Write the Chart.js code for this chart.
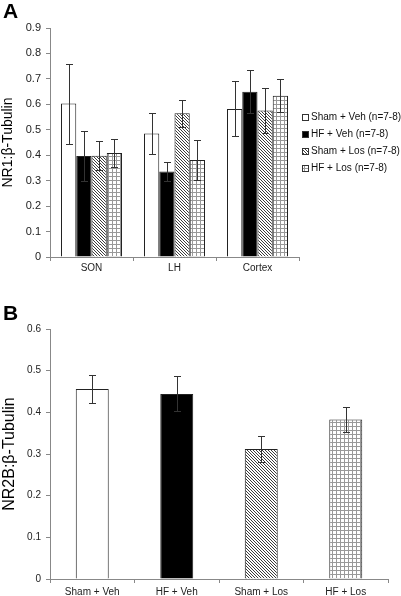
<!DOCTYPE html>
<html>
<head>
<meta charset="utf-8">
<script src="https://cdn.jsdelivr.net/npm/chart.js@4.4.0/dist/chart.umd.min.js"></script>
<style>
  html, body { margin: 0; padding: 0; background: #fff; }
  #wrap { position: relative; width: 401px; height: 596px; overflow: hidden; font-family: "Liberation Sans", Arial, sans-serif; }
  canvas { position: absolute; left: 0; }
  .tag { position: absolute; left: 3px; font-weight: bold; font-size: 21px; line-height: 1; }
</style>
</head>
<body>
<div id="wrap">
  <canvas id="chartA" width="401" height="290" style="top:0"></canvas>
  <canvas id="chartB" width="401" height="306" style="top:290px"></canvas>
  <div class="tag" style="top:0">A</div>
  <div class="tag" style="top:302px">B</div>
</div>
<script>
// panel A: NR1 by region
const regions = ['SON', 'LH', 'Cortex'];
const groupsA = ['Sham + Veh (n=7-8)', 'HF + Veh (n=7-8)', 'Sham + Los (n=7-8)', 'HF + Los (n=7-8)'];
const shamVeh = [0.603, 0.485, 0.582];
const shamVehErr = [0.157, 0.082, 0.108];
const hfVeh = [0.397, 0.336, 0.649];
const hfVehErr = [0.098, 0.037, 0.085];
const shamLos = [0.398, 0.565, 0.576];
const shamLosErr = [0.056, 0.053, 0.089];
const hfLos = [0.409, 0.381, 0.634];
const hfLosErr = [0.055, 0.080, 0.064];
const yMaxA = 0.9;

// panel B: NR2B by treatment
const treatments = ['Sham + Veh', 'HF + Veh', 'Sham + Los', 'HF + Los'];
const nr2b = [0.456, 0.444, 0.312, 0.383];
const nr2bErr = [0.033, 0.042, 0.032, 0.030];
const yMaxB = 0.6;
const yStep = 0.1;

const FONT = '"Liberation Sans", Arial, sans-serif';

function hatchPattern() {
  const c = document.createElement('canvas');
  c.width = 6; c.height = 6;
  const g = c.getContext('2d');
  const img = g.createImageData(6, 6);
  for (let y = 0; y < 6; y++) {
    for (let x = 0; x < 6; x++) {
      const dark = ((x - y + 6) % 3) === 0;
      const v = dark ? 60 : 255;
      const k = (y * 6 + x) * 4;
      img.data[k] = v; img.data[k + 1] = v; img.data[k + 2] = v; img.data[k + 3] = 255;
    }
  }
  g.putImageData(img, 0, 0);
  return g.createPattern(c, 'repeat');
}

function gridPattern() {
  const c = document.createElement('canvas');
  c.width = 4; c.height = 4;
  const g = c.getContext('2d');
  g.fillStyle = '#fff';
  g.fillRect(0, 0, 4, 4);
  g.fillStyle = '#999';
  g.fillRect(0, 0, 4, 1);
  g.fillRect(0, 0, 1, 4);
  return g.createPattern(c, 'repeat');
}

const fills = ['#ffffff', '#000000', hatchPattern(), gridPattern()];

const errorBars = {
  id: 'errorBars',
  afterDatasetsDraw(chart) {
    const ctx = chart.ctx;
    const yScale = chart.scales.y;
    ctx.save();
    ctx.strokeStyle = '#333';
    ctx.lineWidth = 1;
    chart.data.datasets.forEach((ds, di) => {
      const meta = chart.getDatasetMeta(di);
      meta.data.forEach((bar, i) => {
        const v = ds.data[i], e = ds.errors[i];
        const x = Math.round(bar.x) + 0.5;
        const yt = Math.round(yScale.getPixelForValue(v + e)) + 0.5;
        const yb = Math.round(yScale.getPixelForValue(v - e)) + 0.5;
        ctx.beginPath();
        ctx.moveTo(x, yt); ctx.lineTo(x, yb);
        ctx.moveTo(x - 3.5, yt); ctx.lineTo(x + 3.5, yt);
        ctx.moveTo(x - 3.5, yb); ctx.lineTo(x + 3.5, yb);
        ctx.stroke();
      });
    });
    ctx.restore();
  }
};

const sideLegend = {
  id: 'sideLegend',
  afterDraw(chart) {
    const ctx = chart.ctx;
    const x0 = chart.chartArea.right + 3;
    const yMid = (chart.chartArea.top + chart.chartArea.bottom) / 2;
    const gap = 16.7;
    ctx.save();
    ctx.font = '10px ' + FONT;
    ctx.textBaseline = 'middle';
    chart.data.datasets.forEach((ds, i) => {
      const y = Math.round(yMid + (i - 1.5) * gap);
      ctx.fillStyle = ds.backgroundColor;
      ctx.fillRect(x0, y - 3, 7, 7);
      ctx.strokeStyle = '#333';
      ctx.strokeRect(x0 + 0.5, y - 2.5, 6, 6);
      ctx.fillStyle = '#111';
      ctx.fillText(ds.label, x0 + 9, y + 0.5);
    });
    ctx.restore();
  }
};

function tickLabel(v) {
  return v === 0 ? '0' : v.toFixed(1);
}

function yAxis(max, title, titleSize, tickSize) {
  return {
    min: 0,
    max: max,
    afterFit: s => { s.width = 50; },
    ticks: { stepSize: yStep, callback: tickLabel, color: '#222', padding: 5, font: { family: FONT, size: tickSize } },
    grid: { drawOnChartArea: false, drawTicks: true, tickLength: 4, color: '#888' },
    border: { color: '#888' },
    title: { display: true, text: title, color: '#000', padding: { top: 0, bottom: 0 }, font: { family: FONT, size: titleSize } }
  };
}

function xAxis(height, pad) {
  return {
    afterFit: s => { s.height = height; },
    ticks: { color: '#222', padding: pad, maxRotation: 0, font: { family: FONT, size: 10 } },
    grid: { drawOnChartArea: false, drawTicks: true, tickLength: 4, color: '#888' },
    border: { color: '#888' }
  };
}

new Chart(document.getElementById('chartA'), {
  type: 'bar',
  data: {
    labels: regions,
    datasets: [
      { label: groupsA[0], data: shamVeh, errors: shamVehErr },
      { label: groupsA[1], data: hfVeh, errors: hfVehErr },
      { label: groupsA[2], data: shamLos, errors: shamLosErr },
      { label: groupsA[3], data: hfLos, errors: hfLosErr }
    ].map((d, i) => Object.assign(d, {
      backgroundColor: fills[i], borderColor: '#222', borderWidth: 1,
      categoryPercentage: 0.735, barPercentage: 1
    }))
  },
  options: {
    responsive: false,
    animation: false,
    devicePixelRatio: 1,
    layout: { padding: { top: 28, right: 102, bottom: 0, left: 0 } },
    plugins: { legend: { display: false }, tooltip: { enabled: false } },
    scales: {
      x: xAxis(33, 1),
      y: yAxis(yMaxA, 'NR1:β-Tubulin', 14, 11)
    }
  },
  plugins: [errorBars, sideLegend]
});

new Chart(document.getElementById('chartB'), {
  type: 'bar',
  data: {
    labels: treatments,
    datasets: [{
      label: 'NR2B',
      data: nr2b,
      errors: nr2bErr,
      backgroundColor: fills,
      borderColor: '#222',
      borderWidth: 1,
      categoryPercentage: 0.39,
      barPercentage: 1
    }]
  },
  options: {
    responsive: false,
    animation: false,
    devicePixelRatio: 1,
    layout: { padding: { top: 39, right: 13, bottom: 0, left: 0 } },
    plugins: { legend: { display: false }, tooltip: { enabled: false } },
    scales: {
      x: xAxis(17, 3),
      y: yAxis(yMaxB, 'NR2B:β-Tubulin', 16, 10)
    }
  },
  plugins: [errorBars]
});
</script>
</body>
</html>
